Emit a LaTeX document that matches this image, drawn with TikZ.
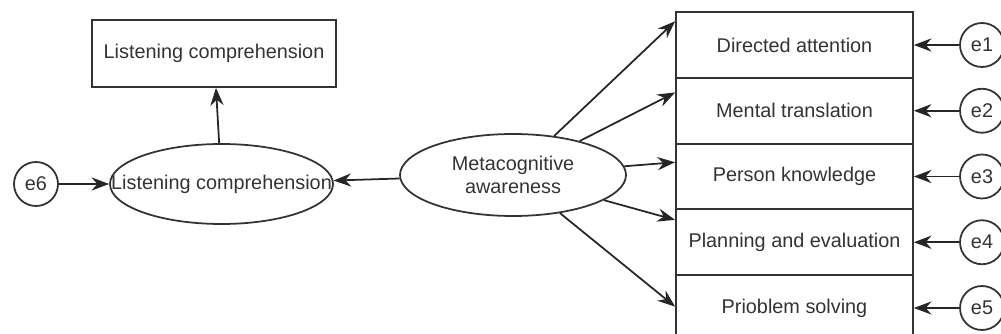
\documentclass[tikz,border=0pt]{standalone}
\usepackage{fontspec}
\setmainfont{Liberation Sans}
\usetikzlibrary{shapes.geometric,calc,arrows.meta}
\newcommand{\px}{0.02cm}

\tikzset{
every node/.style={font=\fontsize{11.3}{13.5}\selectfont,text=black!80},
box/.style={draw=black!80,line width=1pt,minimum width=237*\px,minimum height=66*\px,inner sep=0pt},
err/.style={draw=black!80,circle,line width=1pt,minimum size=44*\px,inner sep=0pt},
latent/.style={draw=black!80,ellipse,line width=1pt,inner sep=0pt},
link/.style={draw=black!85,line width=1pt,-{Stealth[length=10pt,width=7.5pt]}}
}

\begin{document}
\begin{tikzpicture}[x=\px,y=-\px]
\useasboundingbox (0,0) rectangle (1001,334);
\node[box,minimum width=244*\px,minimum height=67*\px] (lcbox) at (214,53.5) {Listening comprehension};
\node[latent,minimum width=223*\px,minimum height=80*\px,label=center:Listening comprehension] (lc) at (221.5,184) {};
\node[err] (e6) at (36,184) {e6};
\node[latent,minimum width=226*\px,minimum height=82*\px,align=center] (meta) at (513,175) {Metacognitive\\awareness};
\foreach \i/\lbl in {1/Directed attention,2/Mental translation,3/Person knowledge,4/Planning and evaluation,5/Prioblem solving}{
\node[box] (d\i) at (794.5,{45+(\i-1)*65.75}) {\lbl};
\node[err] (e\i) at (982,{45+(\i-1)*65.75}) {e\i};
\draw[link] (e\i) -- (d\i);
}
\foreach \i/\f in {1/0.15,2/0.23,3/0.29,4/0.17,5/0.48}{
\draw[link] (meta) -- ($(d\i.north west)!\f!(d\i.south west)$);
}
\draw[link] (lc) -- (lcbox);
\draw[link] (e6) -- (lc);
\draw[link] (meta) -- (lc);
\end{tikzpicture}
\end{document}
